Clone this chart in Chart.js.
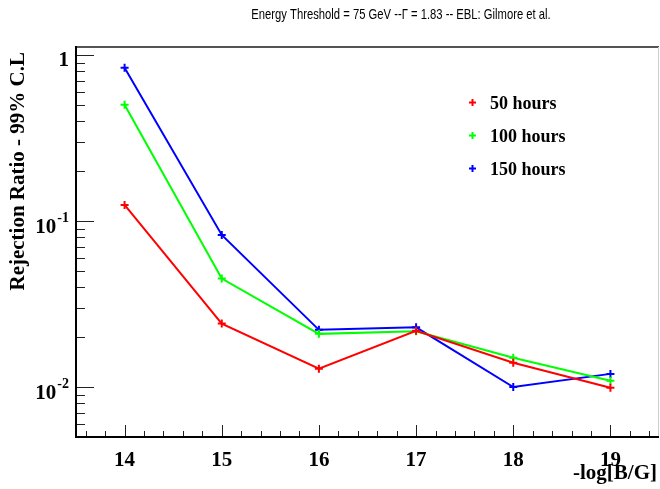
<!DOCTYPE html>
<html>
<head>
<meta charset="utf-8">
<script src="https://cdn.jsdelivr.net/npm/chart.js@4.4.1/dist/chart.umd.min.js"></script>
<style>
  body { margin: 0; background: #fff; }
  #wrap { width: 660px; height: 489px; position: relative; }
</style>
</head>
<body>
<div id="wrap"><canvas id="rejectionChart"></canvas></div>
<script>
// -log[B/G] values on the x axis
var fieldValues = [14, 15, 16, 17, 18, 19];

// rejection ratio at 99% C.L. for each observation time
var ratio50h = [0.125, 0.0241, 0.0129, 0.0218, 0.0140, 0.0099];
var ratio100h = [0.502, 0.0450, 0.0209, 0.0217, 0.0150, 0.0109];
var ratio150h = [0.839, 0.0824, 0.0221, 0.0229, 0.0100, 0.0120];

var seriesNames = ["50 hours", "100 hours", "150 hours"];
var seriesColors = ["#ff0000", "#00ff00", "#0000ff"];

var xTickLabels = ["14", "15", "16", "17", "18", "19"];
var yDecades = [1, 0.1, 0.01];
var yDecadeLabels = [["1", ""], ["10", "-1"], ["10", "-2"]];

var titleText = "Energy Threshold = 75 GeV --\u0393 = 1.83 -- EBL: Gilmore et al.";
var xTitle = "-log[B/G]";
var yTitle = "Rejection Ratio - 99% C.L";

function toPoints(ys) {
  return fieldValues.map(function (x, i) { return { x: x, y: ys[i] }; });
}

var serif = "'Liberation Serif', 'Times New Roman', serif";

// ROOT-like frame: ticks drawn inside the frame, labels outside
var rootFrame = {
  id: "rootFrame",
  beforeDatasetsDraw: function (chart) {
    var ctx = chart.ctx;
    var a = chart.chartArea;
    var xs = chart.scales.x;
    var ys = chart.scales.y;
    ctx.save();

    // top and right border
    ctx.strokeStyle = "#555";
    ctx.lineWidth = 2;
    ctx.beginPath();
    ctx.moveTo(a.left, a.top);
    ctx.lineTo(a.right, a.top);
    ctx.stroke();
    ctx.strokeStyle = "#ccc";
    ctx.lineWidth = 1;
    ctx.beginPath();
    ctx.moveTo(a.right - 0.5, a.top);
    ctx.lineTo(a.right - 0.5, a.bottom);
    ctx.stroke();

    // y ticks (log decades + minors)
    ctx.strokeStyle = "#222";
    ctx.lineWidth = 1;
    for (var d = -3; d <= 0; d++) {
      for (var m = 1; m <= 9; m++) {
        var v = m * Math.pow(10, d);
        if (v < ys.min || v > ys.max) continue;
        var py = Math.round(ys.getPixelForValue(v)) + 0.5;
        var len = m === 1 ? 18 : 9;
        ctx.beginPath();
        ctx.moveTo(a.left, py);
        ctx.lineTo(a.left + len, py);
        ctx.stroke();
      }
    }

    // x ticks every 0.2, major on integers
    for (var k = 0; k <= 30; k++) {
      var xv = Math.round((13.6 + k * 0.2) * 10) / 10;
      if (xv < xs.min || xv > xs.max) continue;
      var px = Math.round(xs.getPixelForValue(xv)) + 0.5;
      var major = Math.abs(xv - Math.round(xv)) < 1e-6;
      ctx.beginPath();
      ctx.moveTo(px, a.bottom);
      ctx.lineTo(px, a.bottom - (major ? 12 : 6));
      ctx.stroke();
    }

    // left and bottom axis lines
    ctx.strokeStyle = "#000";
    ctx.lineWidth = 2;
    ctx.beginPath();
    ctx.moveTo(a.left, a.top - 1);
    ctx.lineTo(a.left, a.bottom);
    ctx.lineTo(a.right, a.bottom);
    ctx.stroke();

    // x tick labels
    ctx.fillStyle = "#000";
    ctx.font = "bold 21px " + serif;
    ctx.textAlign = "center";
    ctx.textBaseline = "alphabetic";
    fieldValues.forEach(function (v, i) {
      ctx.fillText(xTickLabels[i], xs.getPixelForValue(v), a.bottom + 29);
    });

    // y tick labels with superscript exponents
    yDecades.forEach(function (v, i) {
      var py = ys.getPixelForValue(v);
      var base = yDecadeLabels[i][0];
      var exp = yDecadeLabels[i][1];
      var right = a.left - 7;
      ctx.textAlign = "right";
      if (exp) {
        ctx.font = "bold 14px " + serif;
        var ew = ctx.measureText(exp).width;
        ctx.fillText(exp, right, py + 1);
        ctx.font = "bold 21px " + serif;
        ctx.fillText(base, right - ew - 1, py + 12);
      } else {
        ctx.font = "bold 21px " + serif;
        ctx.fillText(base, right, py + 11);
      }
    });

    // axis titles
    ctx.font = "bold 21px " + serif;
    ctx.textAlign = "right";
    ctx.fillText(xTitle, a.right - 2, a.bottom + 42);
    ctx.save();
    ctx.translate(24, a.top + 5);
    ctx.rotate(-Math.PI / 2);
    ctx.textAlign = "right";
    ctx.fillText(yTitle, 0, 0);
    ctx.restore();

    // title, set in a condensed sans
    ctx.save();
    ctx.font = "15px 'Liberation Sans', Arial, sans-serif";
    ctx.textAlign = "center";
    ctx.translate(401, 19);
    ctx.scale(0.75, 1);
    ctx.fillText(titleText, 0, 0);
    ctx.restore();

    // legend
    ctx.font = "bold 18px " + serif;
    ctx.textAlign = "left";
    seriesNames.forEach(function (name, i) {
      var ly = 102.5 + i * 33;
      ctx.strokeStyle = seriesColors[i];
      ctx.lineWidth = 2;
      ctx.beginPath();
      ctx.moveTo(469, ly);
      ctx.lineTo(476, ly);
      ctx.moveTo(472.5, ly - 3.5);
      ctx.lineTo(472.5, ly + 3.5);
      ctx.stroke();
      ctx.fillStyle = "#000";
      ctx.fillText(name, 490, ly + 6);
    });

    ctx.restore();
  }
};

function makeSet(label, ys, color) {
  return {
    label: label,
    data: toPoints(ys),
    borderColor: color,
    backgroundColor: color,
    borderWidth: 2,
    pointStyle: "cross",
    pointRadius: 4,
    pointBorderWidth: 2,
    tension: 0
  };
}

new Chart(document.getElementById("rejectionChart").getContext("2d"), {
  type: "line",
  data: {
    datasets: [
      makeSet(seriesNames[0], ratio50h, seriesColors[0]),
      makeSet(seriesNames[1], ratio100h, seriesColors[1]),
      makeSet(seriesNames[2], ratio150h, seriesColors[2])
    ]
  },
  options: {
    responsive: true,
    maintainAspectRatio: false,
    animation: false,
    layout: { autoPadding: false, padding: { left: 76, right: 1, top: 47, bottom: 52 } },
    scales: {
      x: { type: "linear", min: 13.5, max: 19.5, display: false },
      y: { type: "logarithmic", min: 0.005, max: 1.117, display: false }
    },
    plugins: {
      legend: { display: false },
      title: { display: false },
      tooltip: { enabled: false }
    }
  },
  plugins: [rootFrame]
});
</script>
</body>
</html>
